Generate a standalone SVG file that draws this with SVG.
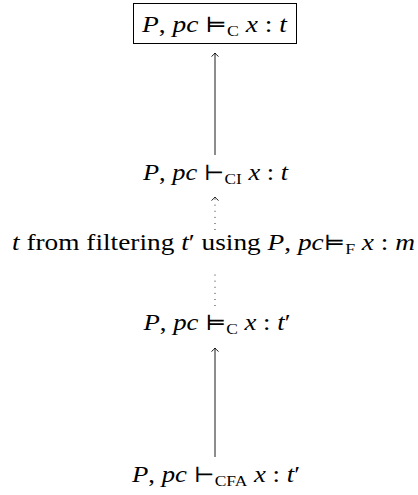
<svg xmlns="http://www.w3.org/2000/svg" width="418" height="495" viewBox="0 0 418 495">
<style>
text{font-family:"Liberation Serif","DejaVu Serif",serif;font-size:23px;fill:#000}
.i{font-style:italic}
.s{font-size:15px}
.sym{font-family:"DejaVu Serif",serif;font-size:21px}
.ln{stroke:#000;stroke-width:0.9;fill:none}
.dot{stroke:#000;stroke-width:0.9;fill:none;stroke-dasharray:0.9 5.2}
.box{stroke:#000;stroke-width:1;fill:#fff}
</style>
<defs>
<marker id="ah" markerWidth="10" markerHeight="10" refX="5" refY="1" orient="0" markerUnits="userSpaceOnUse" viewBox="0 0 10 10">
<path d="M1.5,4.5 Q4,2.5 5,1 Q6,2.5 8.5,4.5" fill="none" stroke="#000" stroke-width="0.9"/>
</marker>
</defs>
<g id="connectors">
<line class="ln" x1="215" y1="155" x2="215" y2="53" marker-end="url(#ah)"/>
<line class="dot" x1="215" y1="230" x2="215" y2="198"/>
<path d="M211.5,200.5 Q214,198.5 215,197 Q216,198.5 218.5,200.5" class="ln"/>
<line class="dot" x1="215" y1="306" x2="215" y2="270"/>
<line class="ln" x1="215" y1="457" x2="215" y2="348" marker-end="url(#ah)"/>
</g>
<g id="n1">
<rect class="box" x="133.5" y="3.5" width="163" height="40"/>
<text x="214.5" y="32" text-anchor="middle" textLength="145" lengthAdjust="spacingAndGlyphs"><tspan class="i">P</tspan>, <tspan class="i">pc</tspan> <tspan class="sym">⊨</tspan><tspan class="s" dy="4">C</tspan><tspan dy="-4"> </tspan><tspan class="i">x</tspan> : <tspan class="i">t</tspan></text>
</g>
<g id="n2">
<text x="215.5" y="180" text-anchor="middle" textLength="145" lengthAdjust="spacingAndGlyphs"><tspan class="i">P</tspan>, <tspan class="i">pc</tspan> <tspan class="sym">⊢</tspan><tspan class="s" dy="4">CI</tspan><tspan dy="-4"> </tspan><tspan class="i">x</tspan> : <tspan class="i">t</tspan></text>
</g>
<g id="n3">
<text x="213.5" y="250" text-anchor="middle" textLength="403" lengthAdjust="spacingAndGlyphs"><tspan class="i">t</tspan> from filtering <tspan class="i">t</tspan>′ using <tspan class="i">P</tspan>, <tspan class="i">pc</tspan><tspan class="sym">⊨</tspan><tspan class="s" dy="4">F</tspan><tspan dy="-4"> </tspan><tspan class="i">x</tspan> : <tspan class="i">m</tspan></text>
</g>
<g id="n4">
<text x="217" y="330" text-anchor="middle" textLength="147" lengthAdjust="spacingAndGlyphs"><tspan class="i">P</tspan>, <tspan class="i">pc</tspan> <tspan class="sym">⊨</tspan><tspan class="s" dy="4">C</tspan><tspan dy="-4"> </tspan><tspan class="i">x</tspan> : <tspan class="i">t</tspan>′</text>
</g>
<g id="n5">
<text x="216" y="482" text-anchor="middle" textLength="168" lengthAdjust="spacingAndGlyphs"><tspan class="i">P</tspan>, <tspan class="i">pc</tspan> <tspan class="sym">⊢</tspan><tspan class="s" dy="4">CFA</tspan><tspan dy="-4"> </tspan><tspan class="i">x</tspan> : <tspan class="i">t</tspan>′</text>
</g>
</svg>
